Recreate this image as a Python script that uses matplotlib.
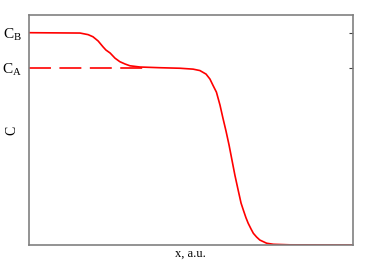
import matplotlib
matplotlib.use("Agg")
import matplotlib.pyplot as plt

# Concentration profile (x in a.u. 0..100, C_A = 1, C_B = 1.2)
x_profile = [0, 15.9, 18.4, 19.9, 21.5, 23.0, 23.9, 25.2, 26.7, 28.2, 29.8, 31.3,
             34.4, 40.6, 46.8, 50.8, 52.9, 54.8, 56.0, 56.9, 58.0, 59.1, 60.0,
             60.96, 61.9, 62.8, 63.7, 64.7, 65.6, 66.3, 67.1, 67.8, 68.7, 69.4,
             70.4, 71.4, 73.5, 75.6, 80.7, 100]
c_profile = [1.200, 1.198, 1.189, 1.177, 1.153, 1.120, 1.102, 1.085, 1.056, 1.036,
             1.023, 1.013, 1.006, 1.002, 0.999, 0.994, 0.986, 0.966, 0.938, 0.904,
             0.864, 0.791, 0.718, 0.644, 0.565, 0.480, 0.395, 0.311, 0.237, 0.198,
             0.155, 0.123, 0.090, 0.066, 0.045, 0.028, 0.010, 0.004, 0.001, 0.0]

x_dashed = [0, 36]
c_dashed = [1.0, 1.0]

ytick_values = [1.0, 1.2]
ytick_labels = [r"$\mathregular{C_A}$", r"$\mathregular{C_B}$"]

plt.rcParams['font.family'] = ['Liberation Serif', 'DejaVu Serif']
plt.rcParams['mathtext.fontset'] = 'custom'
plt.rcParams['mathtext.rm'] = 'Liberation Serif'
plt.rcParams['lines.scale_dashes'] = False

fig = plt.figure(figsize=(3.74, 2.62), dpi=100)
ax = fig.add_axes([28.5 / 374, 17 / 262, 324 / 374, 230 / 262])

ax.plot(x_profile, c_profile, color='#ff0000', lw=1.2, solid_capstyle='butt',
        solid_joinstyle='round')
ax.plot(x_dashed, c_dashed, color='#ff0000', lw=1.2, dashes=(15.8, 6.1))

ax.set_xlim(0, 100)
ax.set_ylim(0, 1.3)
ax.set_xticks([])
ax.set_yticks(ytick_values)
ax.set_yticklabels(ytick_labels, fontsize=11)
ax.tick_params(axis='y', left=False, right=True, direction='in', length=3,
               width=0.8, color='#404040', pad=5)
for s in ax.spines.values():
    s.set_color('#808080')
    s.set_linewidth(1.2)

ax.set_xlabel('x, a.u.', fontsize=9, labelpad=2)
ax.set_ylabel('C', fontsize=10)
ax.yaxis.set_label_coords(-0.03, 0.5)

fig.savefig('out.png', dpi=100)
